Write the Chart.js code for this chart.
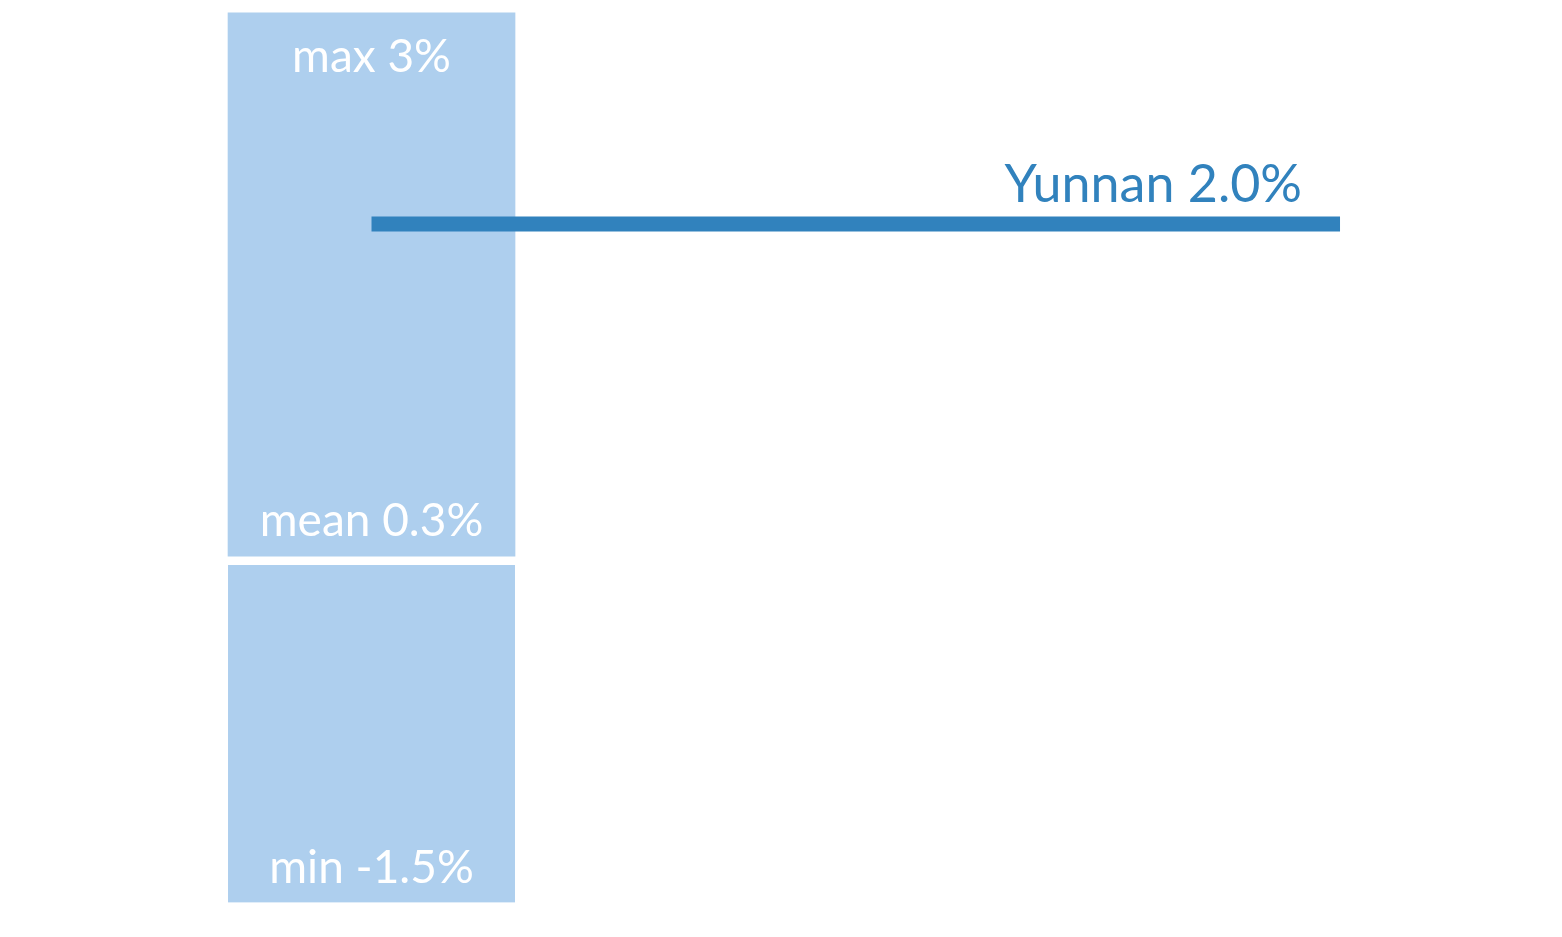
<!DOCTYPE html>
<html>
<head>
<meta charset="utf-8">
<title>Yunnan vs range</title>
<script src="https://cdn.jsdelivr.net/npm/chart.js@4.4.1/dist/chart.umd.min.js"></script>
<style>
    html, body { margin: 0; padding: 0; background: #ffffff; }
    canvas { display: block; }
</style>
</head>
<body>
<canvas id="range-chart" width="1562" height="937"></canvas>
<script>
// values (percent)
const rangeMax = 3.08;
const rangeMean = 0.3;
const rangeMin = -1.47;
const regionName = "Yunnan";
const regionValue = 2.0;

// text shown on the range bar
const rangeLabels = ["max 3%", "mean 0.3%", "min -1.5%"];

// x positions: the range bar sits at 0, the region line runs 0 -> 1
const barX = 0;
const lineXs = [0, 1];

const barColor = "#aecfee";
const lineColor = "#3182bd";
const fontFamily = "Lato, 'Open Sans', sans-serif";

const labelPlugin = {
    id: "rangeLabels",
    afterDatasetsDraw(chart) {
        const ctx = chart.ctx;
        const upper = chart.getDatasetMeta(1).data[0];
        const lower = chart.getDatasetMeta(2).data[0];
        const line = chart.getDatasetMeta(0).data;

        ctx.save();
        ctx.textBaseline = "alphabetic";

        // white labels inside the bar
        ctx.fillStyle = "#ffffff";
        ctx.textAlign = "center";
        ctx.font = "46px " + fontFamily;
        const upperTop = Math.min(upper.y, upper.base);
        const upperBottom = Math.max(upper.y, upper.base);
        const lowerBottom = Math.max(lower.y, lower.base);
        ctx.fillText(rangeLabels[0], upper.x, upperTop + 59);
        ctx.fillText(rangeLabels[1], upper.x, upperBottom - 20);
        ctx.fillText(rangeLabels[2], lower.x, lowerBottom - 19);

        // region label above the end of the line
        const end = line[line.length - 1];
        ctx.fillStyle = lineColor;
        ctx.textAlign = "right";
        ctx.font = "52px " + fontFamily;
        ctx.fillText(regionName + " " + regionValue.toFixed(1) + "%", end.x - 38, end.y - 22);
        ctx.restore();
    }
};

new Chart(document.getElementById("range-chart"), {
    data: {
        datasets: [
            {
                type: "line",
                label: regionName,
                data: lineXs.map(x => ({ x: x, y: regionValue })),
                borderColor: lineColor,
                borderWidth: 15,
                borderCapStyle: "butt",
                pointRadius: 0,
                order: 0
            },
            {
                type: "bar",
                label: "above mean",
                data: [{ x: barX, y: [rangeMean, rangeMax] }],
                backgroundColor: barColor,
                borderWidth: 0,
                barThickness: 287,
                grouped: false,
                order: 1
            },
            {
                type: "bar",
                label: "below mean",
                data: [{ x: barX, y: [rangeMin, rangeMean] }],
                backgroundColor: barColor,
                borderColor: "#ffffff",
                borderWidth: { top: 9, right: 0, bottom: 0, left: 0 },
                borderSkipped: false,
                barThickness: 287,
                grouped: false,
                order: 1
            }
        ]
    },
    options: {
        responsive: false,
        animation: false,
        layout: { padding: 0 },
        scales: {
            x: { type: "linear", min: -0.3836, max: 1.2292, offset: false, display: false },
            y: { type: "linear", min: -1.647, max: 3.145, display: false }
        },
        plugins: {
            legend: { display: false },
            tooltip: { enabled: false }
        }
    },
    plugins: [labelPlugin]
});
</script>
</body>
</html>
